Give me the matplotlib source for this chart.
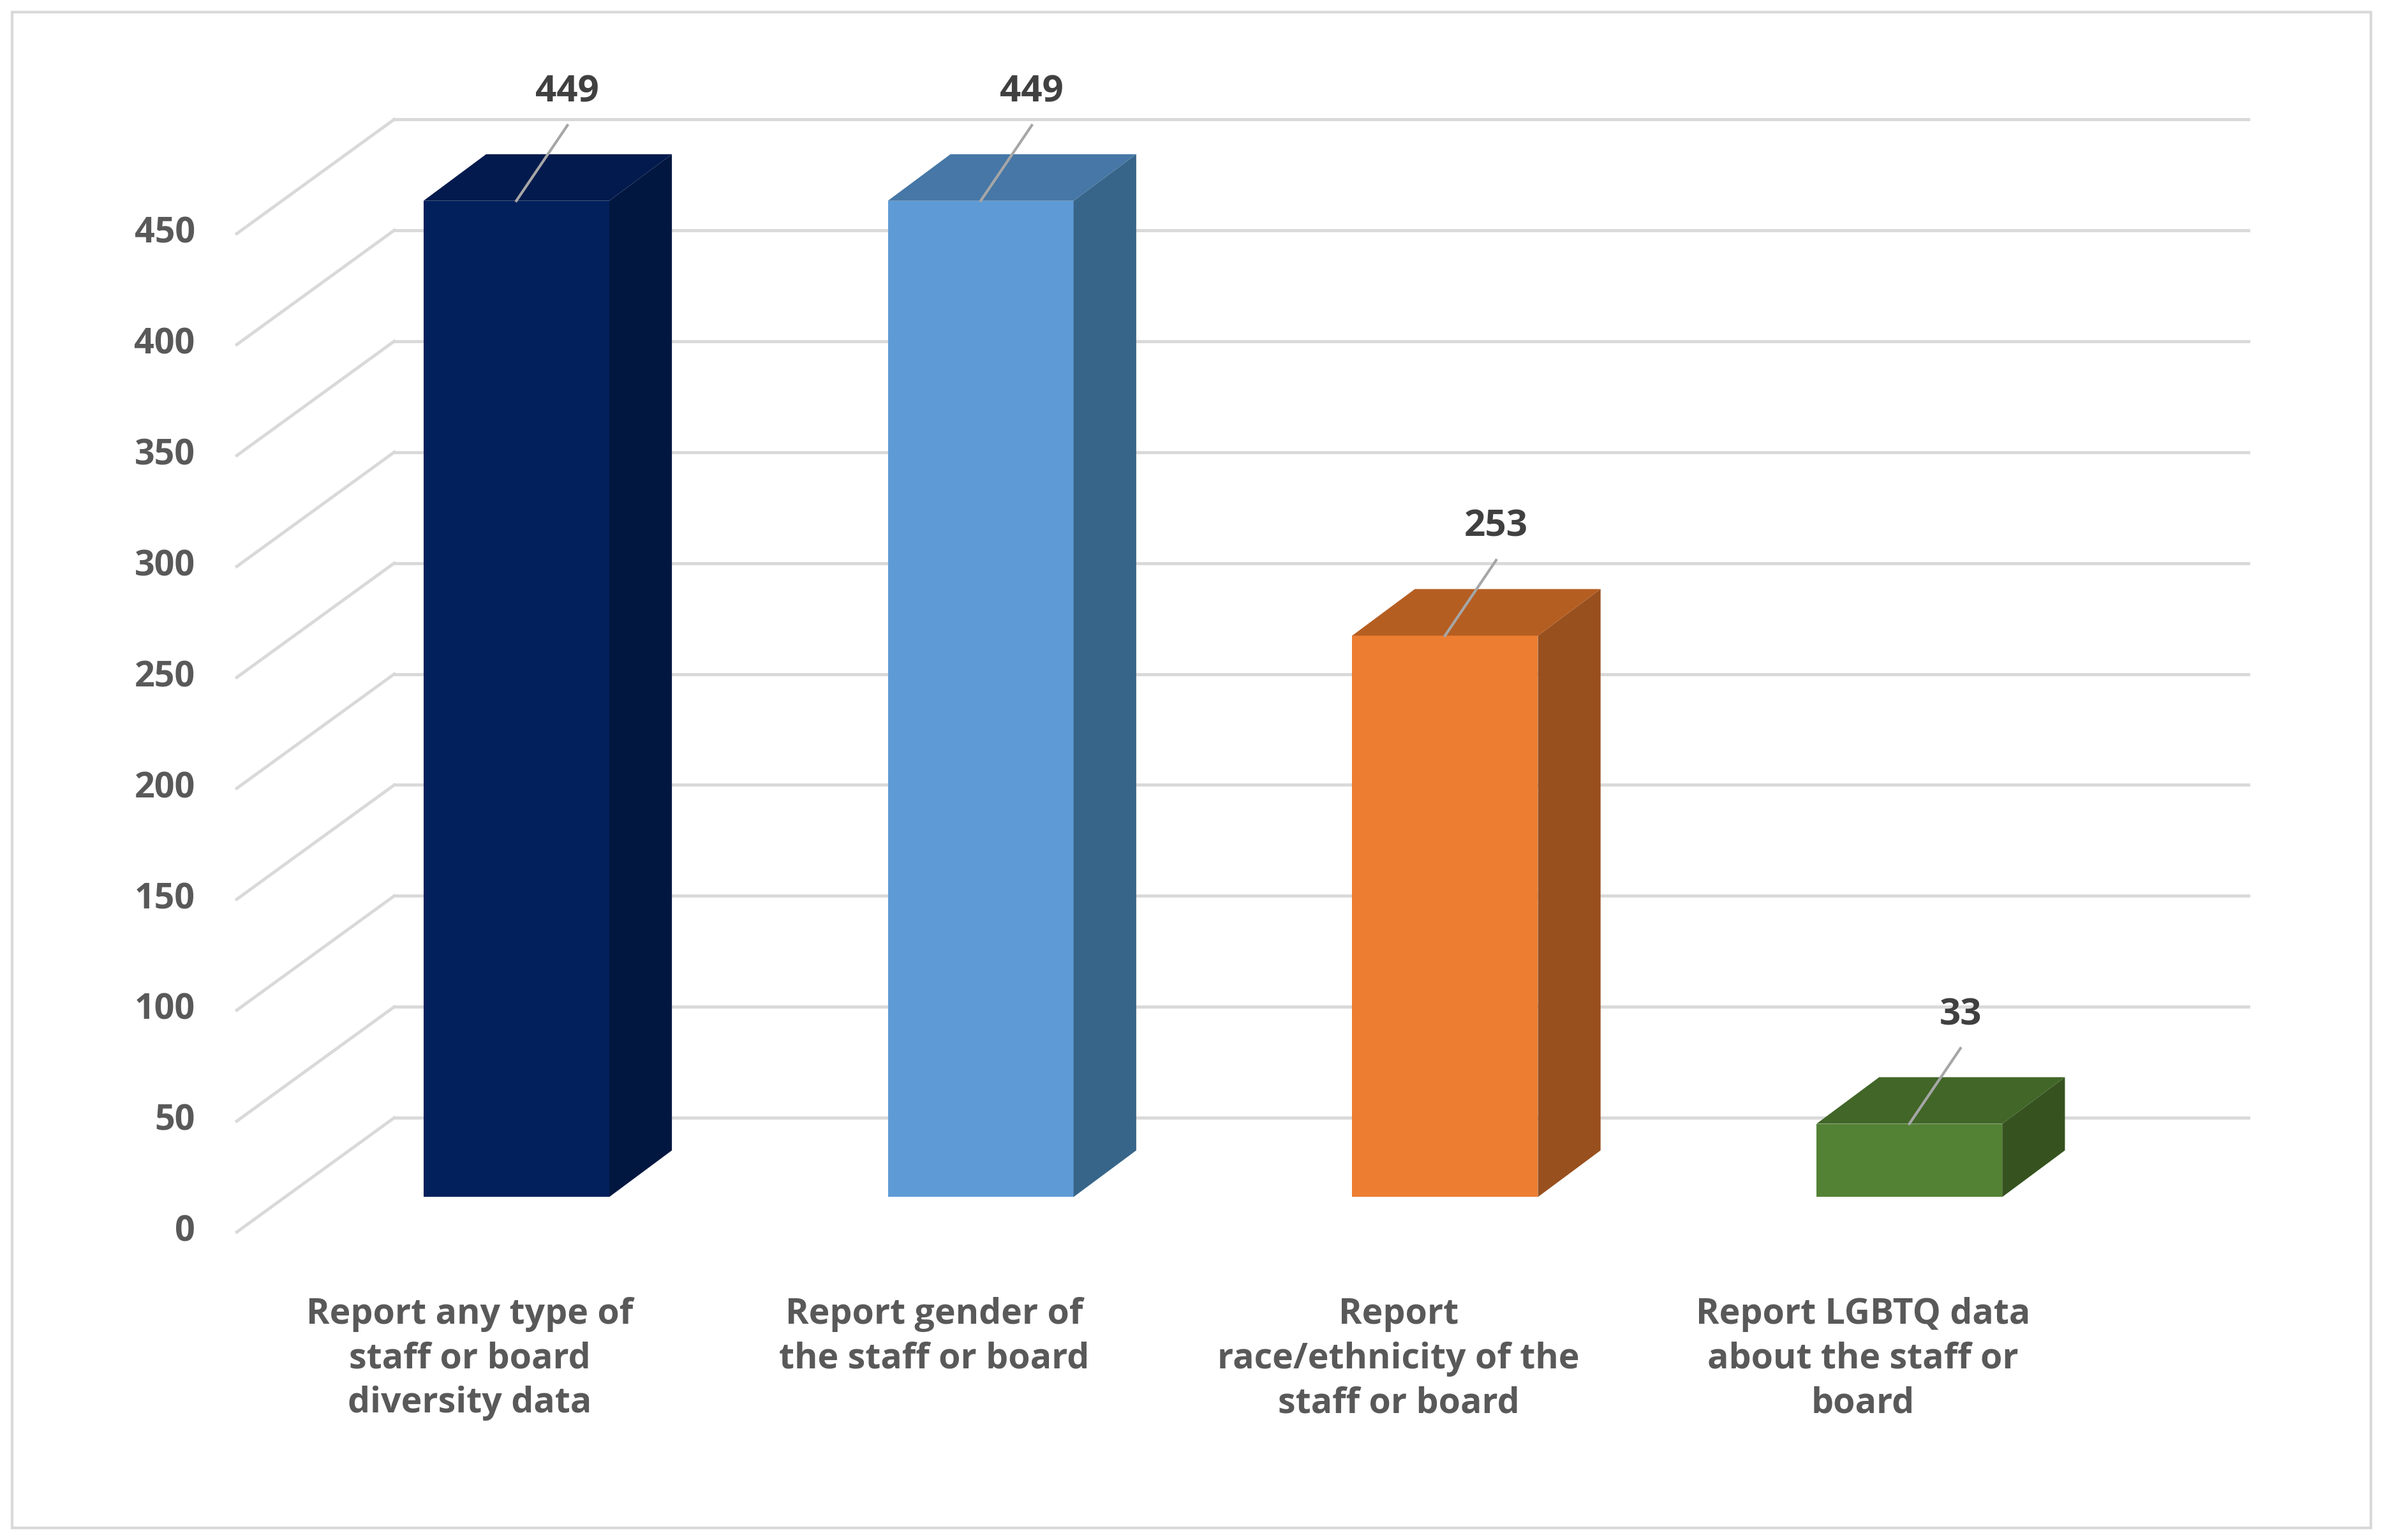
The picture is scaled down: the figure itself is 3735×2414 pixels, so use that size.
import matplotlib.pyplot as plt
from matplotlib.patches import Polygon, Rectangle

categories = ["Report any type of\nstaff or board\ndiversity data",
              "Report gender of\nthe staff or board",
              "Report\nrace/ethnicity of the\nstaff or board",
              "Report LGBTQ data\nabout the staff or\nboard"]
values = [449, 449, 253, 33]
ticks = [0, 50, 100, 150, 200, 250, 300, 350, 400, 450]

FRONT = ["#02205C", "#5E9BD6", "#ED7D31", "#548235"]
SIDE = ["#021740", "#376589", "#98501E", "#36531F"]
TOP = ["#021A4D", "#4677A6", "#B55E22", "#416628"]
GRID = "#D9D9D9"
TXT = "#595959"

# geometry (category units / value units)
W = 0.40          # bar width
DX, DY = 0.135, 21   # bar depth
WALL_DX, WALL_DY = -0.263, 35.7   # back wall offset
FLOOR_X, FLOOR_DY = -0.602, -15.8  # front edge of floor

plt.rcParams["font.family"] = "Open Sans"
fig = plt.figure(figsize=(37.35, 24.14), dpi=100)
ax = fig.add_axes([0, 0, 1, 1])
ax.set_xlim(-1.112, 4.02)
ax.set_ylim(-154.6, 539.5)
ax.axis("off")

fig.patches.append(Rectangle((0.005, 0.008), 0.99, 0.984, transform=fig.transFigure,
                             fill=False, edgecolor=GRID, linewidth=3))

for t in ticks:
    ax.plot([WALL_DX, 3.73], [t + WALL_DY, t + WALL_DY], color=GRID, lw=3.5, zorder=1)
    ax.plot([FLOOR_X, WALL_DX], [t + FLOOR_DY, t + WALL_DY], color=GRID, lw=3.5, zorder=1)
    ax.text(FLOOR_X - 0.09, t + FLOOR_DY, str(t), ha="right", va="center",
            fontsize=40, fontweight="bold", color=TXT)

for i, v in enumerate(values):
    x0, x1 = i - W / 2, i + W / 2
    ax.bar(i, v, width=W, color=FRONT[i], zorder=3)
    ax.add_patch(Polygon([(x1, 0), (x1 + DX, DY), (x1 + DX, v + DY), (x1, v)],
                         closed=True, facecolor=SIDE[i], zorder=3))
    ax.add_patch(Polygon([(x0, v), (x1, v), (x1 + DX, v + DY), (x0 + DX, v + DY)],
                         closed=True, facecolor=TOP[i], zorder=3))
    ax.plot([i, i + 0.11], [v, v + 34], color="#A6A6A6", lw=3, zorder=4)
    ax.text(i + 0.11, v + 49, str(v), ha="center", va="center",
            fontsize=42, fontweight="bold", color="#404040", zorder=5)
    ax.text(i - 0.1, -45, categories[i], ha="center", va="top", fontsize=40,
            fontweight="bold", color=TXT, linespacing=1.35)

fig.savefig("out.png", dpi=100)
